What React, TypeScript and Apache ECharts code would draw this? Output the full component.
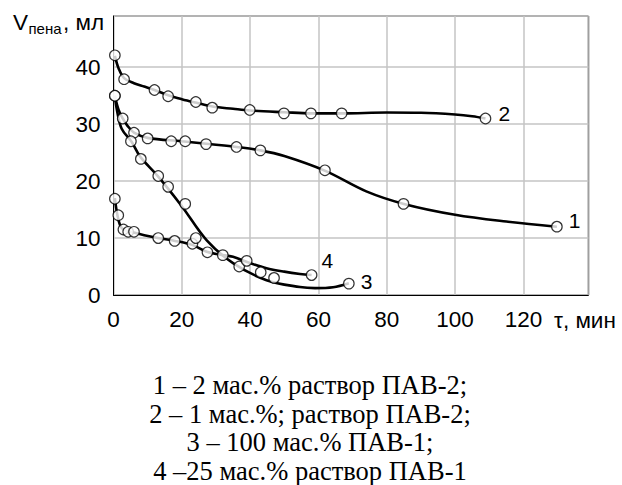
import React, { useEffect, useRef } from "react";
import * as echarts from "echarts";

// Measured points (t, min ; V foam, ml)
const c1T = [0.4, 2.7, 6, 10, 16.9, 21, 27.1, 36, 43, 61.9, 84.9, 129.8];
const c1V = [35, 31, 28.5, 27.5, 27, 27, 26.5, 26, 25.4, 21.9, 16, 12];
const c2T = [0.4, 3.1, 12, 16, 24.1, 28.9, 39.9, 49.9, 57.8, 66.8, 108.9];
const c2V = [42.1, 37.9, 36, 34.9, 33.9, 32.9, 32.5, 31.9, 31.9, 31.9, 31];
const c3T = [0.4, 5.1, 8, 13.1, 16, 21, 36.8, 43.1, 47, 68.9];
const c3V = [35, 27, 23.9, 20.9, 19, 16, 5, 4, 3, 2];
const c4T = [0.4, 1.4, 2.9, 4.3, 6, 13.1, 17.9, 23.1, 24.1, 27.5, 32, 39, 58];
const c4V = [16.9, 14, 11.5, 11.1, 11.1, 10, 9.5, 9, 10, 7.5, 7, 6, 3.5];

// Fitted (trend) curves
const f1T = [0.4, 1.5, 2.7, 4, 6, 10, 20, 30, 36, 43, 50, 62, 74, 85, 100, 115, 129.8];
const f1V = [35, 32.5, 31, 29.8, 28.5, 27.6, 27, 26.4, 26, 25.4, 24.4, 21.8, 18.2, 16, 14.1, 12.9, 12];
const f2T = [0.4, 1.5, 3.1, 6, 9, 12, 16, 20, 24, 29, 35, 40, 50, 58, 67, 80, 90, 100, 105, 108.9];
const f2V = [42, 39.8, 38.1, 37.2, 36.6, 36, 35.1, 34.4, 33.8, 33.1, 32.7, 32.4, 32.1, 31.9, 31.9, 32.05, 32, 31.7, 31.4, 31];
const f3T = [0.4, 1, 2.4, 5.3, 7.8, 13.1, 20, 27.3, 35, 44.8, 54.6, 59, 64.3, 68.9];
const f3V = [35, 32.5, 29.2, 26.9, 24.3, 20.8, 15.6, 9.6, 5.6, 2.6, 1.4, 1.2, 1.35, 2.05];
const f4T = [0.4, 1, 1.9, 3, 5.6, 9, 13, 18, 23, 27.3, 31, 35, 40, 44.8, 50, 54.6, 58];
const f4V = [17, 14.5, 12.3, 11.5, 11, 10.5, 10, 9.5, 8.8, 7.6, 7.1, 6.7, 5.6, 4.7, 4.1, 3.7, 3.5];

const curveNames = ["1", "2", "3", "4"];
const legendLines = [
  "1 – 2 мас.% раствор ПАВ-2;",
  "2 – 1 мас.%; раствор ПАВ-2;",
  "3 – 100 мас.% ПАВ-1;",
  "4 –25 мас.% раствор ПАВ-1",
];

const zip = (t: number[], v: number[]) => t.map((x, i) => [x, v[i]]);

const SANS = '"Liberation Sans", Arial, sans-serif';
const SERIF = '"Liberation Serif", "Times New Roman", serif';

export default function App() {
  const ref = useRef<HTMLDivElement>(null);
  useEffect(() => {
    if (!ref.current) return;
    const chart = echarts.init(ref.current, null, { renderer: "svg" });
    const points = [zip(c1T, c1V), zip(c2T, c2V), zip(c3T, c3V), zip(c4T, c4V)];
    const fits = [zip(f1T, f1V), zip(f2T, f2V), zip(f3T, f3V), zip(f4T, f4V)];
    const labelOffsets = [[4, -6], [5, -5], [4, -2], [2, -15]];
    const series: any[] = [];
    fits.forEach((d, i) => {
      series.push({
        type: "line",
        data: d,
        smooth: 0.35,
        showSymbol: false,
        symbol: "none",
        lineStyle: { color: "#000", width: 2.6 },
        z: 2,
        endLabel: {
          show: true,
          formatter: curveNames[i],
          offset: labelOffsets[i],
          fontSize: 21,
          fontFamily: SANS,
          color: "#000",
        },
        silent: true,
      });
    });
    points.forEach((d) => {
      series.push({
        type: "scatter",
        data: d,
        symbol: "circle",
        symbolSize: 10.5,
        itemStyle: { color: "#fff", borderColor: "#000", borderWidth: 1.2 },
        z: 5,
      });
    });
    const graphic: any[] = [
      { type: "text", style: { text: "V", x: 13, y: 22, verticalAlign: "middle", fontSize: 22.5, fontFamily: SANS, fill: "#000" } },
      { type: "text", style: { text: "пена", x: 28.5, y: 28.5, verticalAlign: "middle", fontSize: 15, fontFamily: SANS, fill: "#000" } },
      { type: "text", style: { text: ", мл", x: 63, y: 22, verticalAlign: "middle", fontSize: 22.5, fontFamily: SANS, fill: "#000" } },
      { type: "text", style: { text: "τ, мин", x: 554, y: 320, verticalAlign: "middle", fontSize: 22.5, fontFamily: SANS, fill: "#000" } },
    ];
    const ys = [384.5, 413.5, 442, 471];
    legendLines.forEach((s, i) => {
      graphic.push({
        type: "text",
        style: { text: s, x: 310, y: ys[i], align: "center", verticalAlign: "middle", fontSize: 26.5, fontFamily: SERIF, fill: "#000" },
      });
    });
    chart.setOption({
      animation: false,
      backgroundColor: "#fff",
      grid: { left: 113.5, right: 33.7, top: 16, bottom: 190, show: true, borderColor: "#000", borderWidth: 1 },
      xAxis: {
        type: "value",
        min: 0,
        max: 139,
        interval: 20,
        axisLine: { lineStyle: { color: "#000", width: 1 } },
        axisTick: { show: false },
        axisLabel: { showMaxLabel: false, fontSize: 22.5, fontFamily: SANS, color: "#000", margin: 13 },
        splitLine: { show: true, lineStyle: { color: "#c4c4c4", width: 1.5 } },
      },
      yAxis: {
        type: "value",
        min: 0,
        max: 49,
        interval: 10,
        axisLine: { show: true, lineStyle: { color: "#000", width: 1 } },
        axisTick: { show: false },
        axisLabel: { showMaxLabel: false, fontSize: 22.5, fontFamily: SANS, color: "#000", margin: 13 },
        splitLine: { show: true, lineStyle: { color: "#c4c4c4", width: 1.5 } },
      },
      graphic,
      series,
    });
    return () => chart.dispose();
  }, []);
  return <div ref={ref} style={{ position: "fixed", left: 0, top: 0, width: 622, height: 485, background: "#fff" }} />;
}
